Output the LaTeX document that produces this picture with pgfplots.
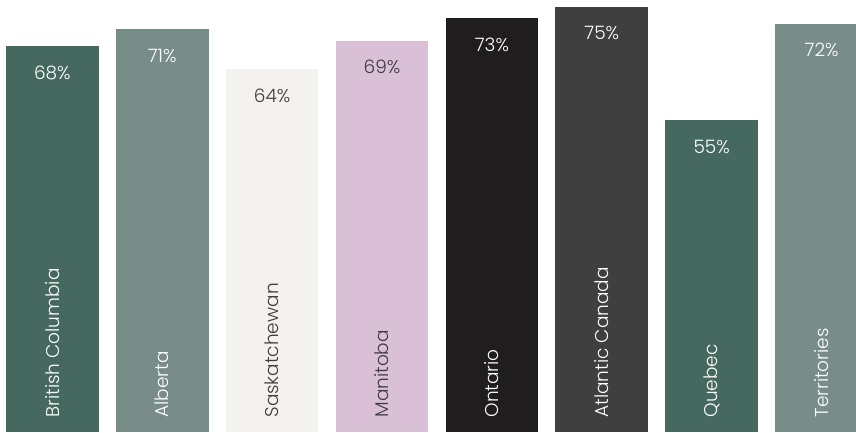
\documentclass[border=0pt]{standalone}
\usepackage{pgfplots}
\pgfplotsset{compat=1.18}
\usepackage{fontspec}
\setmainfont{Poppins Light}
\definecolor{cA}{HTML}{46695F}
\definecolor{cB}{HTML}{788D88}
\definecolor{cC}{HTML}{F3F2EE}
\definecolor{cD}{HTML}{D9C0D6}
\definecolor{cE}{HTML}{1F1D1E}
\definecolor{cF}{HTML}{403F40}
\definecolor{txtdark}{HTML}{3F3A3E}
\pgfplotsset{
  pct/.style={ybar, bar width=92.7pt, bar shift=0pt, draw=none,
    nodes near coords={\pgfmathprintnumber{\pgfplotspointmeta}\%},
    every node near coord/.append style={anchor=center, yshift=-26.5pt,
      font=\fontsize{18.5}{22}\selectfont}},
  cat/.style={draw=none, mark=none, nodes near coords, point meta=explicit symbolic,
    every node near coord/.append style={rotate=90, anchor=west, inner sep=0pt,
      font=\fontsize{18.5}{22}\selectfont}},
  wt/.style={every node near coord/.append style={text=white}},
  dk/.style={every node near coord/.append style={text=txtdark}}
}
\begin{document}
\begin{tikzpicture}
\clip (0,0) rectangle (856pt,432pt);
\begin{axis}[at={(0,0)}, anchor=south west, scale only axis,
  width=856pt, height=432pt,
  xmin=-0.476, xmax=7.313, ymin=0, ymax=76.2,
  hide axis, /pgf/number format/assume math mode=true]
\addplot[pct, fill=cA, wt] coordinates {(0,68)};
\addplot[pct, fill=cB, wt] coordinates {(1,71)};
\addplot[pct, fill=cC, dk] coordinates {(2,64)};
\addplot[pct, fill=cD, dk] coordinates {(3,69)};
\addplot[pct, fill=cE, wt] coordinates {(4,73)};
\addplot[pct, fill=cF, wt] coordinates {(5,75)};
\addplot[pct, fill=cA, wt] coordinates {(6,55)};
\addplot[pct, fill=cB, wt] coordinates {(7,72)};
\addplot[cat, wt] coordinates {(0,2.52)[British Columbia] (1,2.52)[Alberta] (4,2.52)[Ontario] (5,2.52)[Atlantic Canada] (6,2.52)[Quebec] (7,2.52)[Territories]};
\addplot[cat, dk] coordinates {(2,2.52)[Saskatchewan] (3,2.52)[Manitoba]};
\end{axis}
\end{tikzpicture}
\end{document}
